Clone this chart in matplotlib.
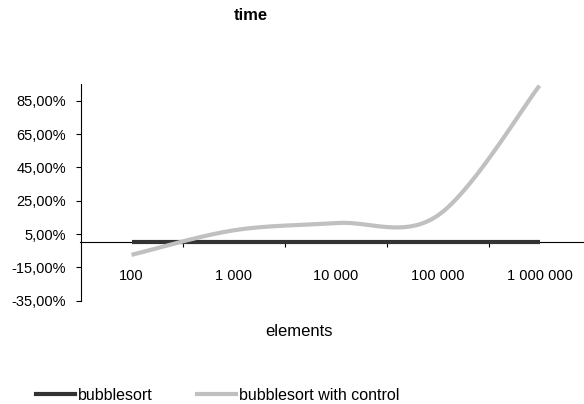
import numpy as np
import matplotlib
matplotlib.use("Agg")
import matplotlib.pyplot as plt
from matplotlib.lines import Line2D

categories = ["100", "1 000", "10 000", "100 000", "1 000 000"]
bubblesort = [0.0, 0.0, 0.0, 0.0, 0.0]
bubblesort_control = [-7.5, 7.2, 11.6, 16.0, 94.0]
y_ticks = [-35, -15, 5, 25, 45, 65, 85]
y_tick_labels = ["-35,00%", "-15,00%", "5,00%", "25,00%", "45,00%", "65,00%", "85,00%"]

plt.rcParams['font.family'] = ['Liberation Sans', 'DejaVu Sans']


def smooth(xs, ys, n=60):
    xs = np.asarray(xs, float)
    ys = np.asarray(ys, float)
    P = np.column_stack([xs, ys])
    out = []
    m = len(P)
    for i in range(m - 1):
        p0 = P[i - 1] if i > 0 else P[i]
        p1 = P[i]
        p2 = P[i + 1]
        p3 = P[i + 2] if i + 2 < m else P[i + 1]
        c1 = p1 + (p2 - p0) / 6.0
        c2 = p2 - (p3 - p1) / 6.0
        t = np.linspace(0, 1, n)[:, None]
        seg = ((1 - t) ** 3) * p1 + 3 * ((1 - t) ** 2) * t * c1 + 3 * (1 - t) * t ** 2 * c2 + t ** 3 * p2
        out.append(seg if i == 0 else seg[1:])
    seg = np.vstack(out)
    return seg[:, 0], seg[:, 1]


fig = plt.figure(figsize=(5.84, 4.04), dpi=100)
ax = fig.add_axes([80.5 / 584, 103.3 / 404, 510 / 584, 216.7 / 404])

x = np.arange(len(categories))
ax.plot(x, bubblesort, color="#333333", lw=3.0, solid_capstyle="butt", zorder=3)
sx, sy = smooth(x, bubblesort_control)
ax.plot(sx, sy, color="#c0c0c0", lw=3.0, solid_capstyle="butt", zorder=4)

ax.set_xlim(-0.5, len(categories) - 0.5)
ax.set_ylim(-35, 95)

ax.spines['top'].set_visible(False)
ax.spines['right'].set_visible(False)
ax.spines['bottom'].set_position(('data', 0))
for s in ['left', 'bottom']:
    ax.spines[s].set_linewidth(0.8)
    ax.spines[s].set_color('black')

ax.set_yticks(y_ticks)
ax.set_yticklabels(y_tick_labels, fontsize=10.5)
ax.tick_params(axis='y', direction='out', length=3.5, width=0.8, pad=7)

ax.set_xticks(x[:-1] + 0.5)
ax.set_xticklabels([])
ax.tick_params(axis='x', which='major', direction='out', length=3.5, width=0.8)
ax.set_xticks(x, minor=True)
ax.set_xticklabels(categories, minor=True, fontsize=10.5)
ax.tick_params(axis='x', which='minor', length=0, pad=19)

fig.text(251 / 584, 1 - 16 / 404, "time", ha='center', va='center', fontsize=12, fontweight='bold')
fig.text(299 / 584, 1 - 331 / 404, "elements", ha='center', va='center', fontsize=12)

handles = [Line2D([], [], color="#333333", lw=3.0),
           Line2D([], [], color="#c0c0c0", lw=3.0)]
fig.legend(handles, ["bubblesort", "bubblesort with control"], loc='center left',
           bbox_to_anchor=(36 / 584, 1 - 395 / 404), ncol=2, frameon=False,
           fontsize=11.5, handlelength=2.45, handletextpad=0.2, columnspacing=2.75,
           borderpad=0, borderaxespad=0)

fig.savefig("out.png", dpi=100)
